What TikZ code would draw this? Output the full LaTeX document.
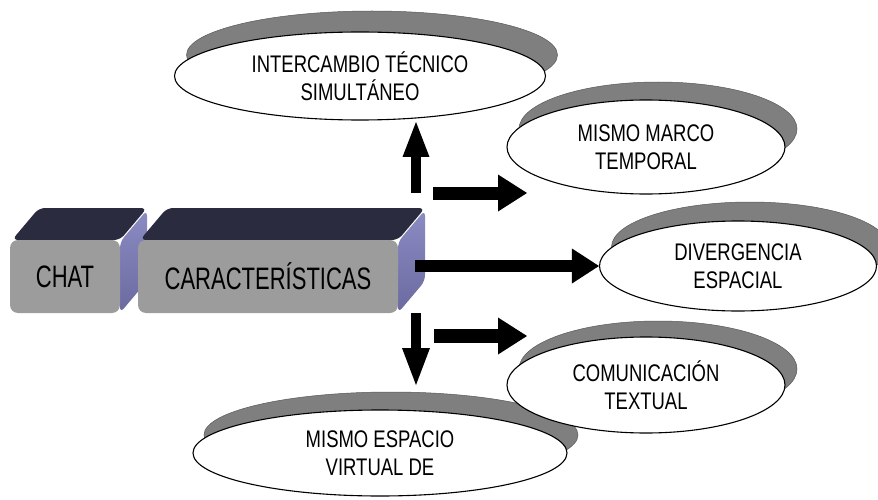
\documentclass[tikz,border=0pt]{standalone}
\usepackage{fontspec}
\setmainfont{Liberation Sans}
\newfontfamily\ellfont[FakeStretch=0.77]{Liberation Sans}
\newfontfamily\blkfont[FakeStretch=0.71]{Liberation Sans}
\usetikzlibrary{shapes.geometric,arrows.meta}
\definecolor{frontgray}{HTML}{9C9C9C}
\definecolor{topnavy}{HTML}{2B2B40}
\definecolor{sidelight}{HTML}{8C8CC4}
\definecolor{sidedark}{HTML}{6A6AA0}
\definecolor{shadowgray}{HTML}{7F7F7F}
\begin{document}
\begin{tikzpicture}[x=1pt,y=-1pt,
  ell/.style={ellipse, draw=black, line width=1.1pt, fill=white, inner sep=0pt,
    align=center, font=\ellfont\fontsize{24}{28}\selectfont},
  ellshadow/.style={ellipse, fill=shadowgray, draw=shadowgray!70!black, line width=0.5pt, inner sep=0pt},
  frontface/.style={rectangle, rounded corners=8pt, fill=frontgray, inner sep=0pt,
    font=\blkfont\fontsize{31}{36}\selectfont},
  topface/.style={fill=topnavy, rounded corners=6pt},
  sideface/.style={top color=sidelight, bottom color=sidedark, rounded corners=6pt},
  blockarrow/.style n args={3}{line width=#1, draw=black,
    -{Triangle[length=#2, width=#3, line width=0pt]}}
]
\useasboundingbox (0,0) rectangle (878,500);
\begin{scope}
\clip (0,0) rectangle (878,500);

% ---- ellipses with shadows
\node[ellshadow, minimum width=371, minimum height=88] (s1) at (372,55) {};
\node[ell, minimum width=371, minimum height=88] (e1) at (360,76) {INTERCAMBIO TÉCNICO\\SIMULTÁNEO};

\node[ellshadow, minimum width=278, minimum height=94] (s2) at (658,129) {};
\node[ell, minimum width=278, minimum height=94] (e2) at (646,147) {MISMO MARCO\\TEMPORAL};

\node[ellshadow, minimum width=277, minimum height=90] (s3) at (750,247) {};
\node[ell, minimum width=277, minimum height=90] (e3) at (738,266) {DIVERGENCIA\\ESPACIAL};

\node[ellshadow, minimum width=374, minimum height=86] (s5) at (391,435) {};
\node[ell, minimum width=374, minimum height=86] (e5) at (380,453) {MISMO ESPACIO\\VIRTUAL DE};

\node[ellshadow, minimum width=278, minimum height=96] (s4) at (658,369) {};
\node[ell, minimum width=278, minimum height=96] (e4) at (646,385) {COMUNICACIÓN\\TEXTUAL};

% ---- CHAT block
\shade[sideface] (120,242) -- (147,210) -- (147,281) -- (120,313) -- cycle;
\fill[topface] (12,240) -- (39,208) -- (147,208) -- (120,240) -- cycle;
\node[frontface, minimum width=110, minimum height=73] (chat) at (65,276.5) {CHAT};

% ---- CARACTERISTICAS block
\shade[sideface] (398,242) -- (425,210) -- (425,281) -- (398,313) -- cycle;
\fill[topface] (140,240) -- (167,208) -- (425,208) -- (398,240) -- cycle;
\node[frontface, minimum width=260, minimum height=73] (car) at (268,276.5) {CARACTERÍSTICAS};

% ---- arrow end points
\coordinate (upS) at (416,193);
\coordinate (upE) at (416,122);
\coordinate (r1S) at (433,193);
\coordinate (r1E) at (527,193);
\coordinate (mS) at (415,266);
\coordinate (dnS) at (416,313);
\coordinate (dnE) at (416,385);
\coordinate (r2S) at (434,336);
\coordinate (r2E) at (527,336);

\draw[blockarrow={10pt}{35pt}{27pt}] (upS) -- (upE);
\draw[blockarrow={13pt}{29pt}{37pt}] (r1S) -- (r1E);
\draw[blockarrow={12pt}{27pt}{35pt}] (mS) -- (e3.west);
\draw[blockarrow={10pt}{37pt}{28pt}] (dnS) -- (dnE);
\draw[blockarrow={14pt}{29pt}{37pt}] (r2S) -- (r2E);
\end{scope}
\end{tikzpicture}
\end{document}
